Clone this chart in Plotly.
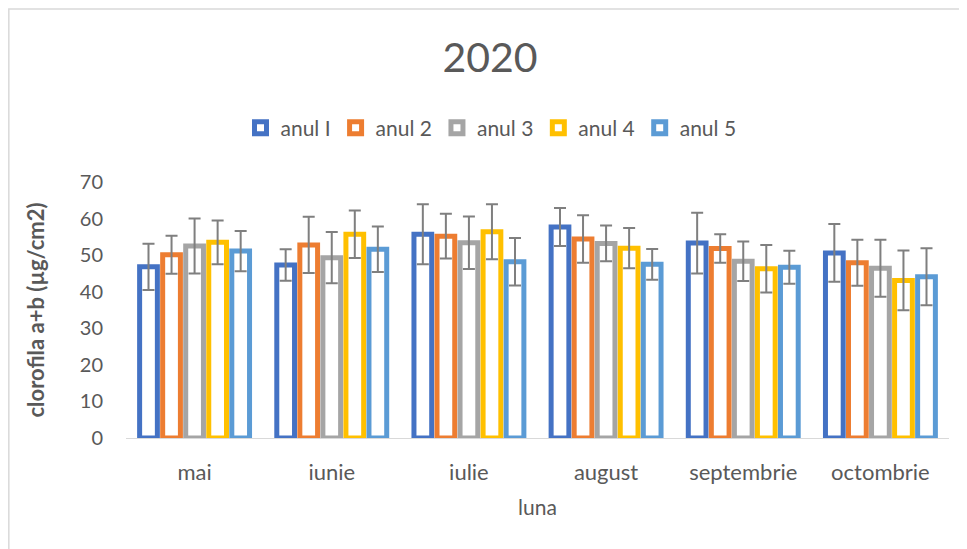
import plotly.graph_objects as go

months = ["mai", "iunie", "iulie", "august", "septembrie", "octombrie"]
series_names = ["anul I", "anul 2", "anul 3", "anul 4", "anul 5"]

anul_1 = [46.8, 47.3, 55.7, 57.7, 53.3, 50.6]
anul_2 = [50.1, 52.8, 55.2, 54.4, 51.8, 47.9]
anul_3 = [52.5, 49.3, 53.4, 53.2, 48.3, 46.4]
anul_4 = [53.5, 55.7, 56.4, 51.9, 46.3, 43.1]
anul_5 = [51.1, 51.6, 48.2, 47.5, 46.7, 44.1]

err_1 = [6.3, 4.3, 8.2, 5.2, 8.3, 7.9]
err_2 = [5.2, 7.7, 6.1, 6.5, 3.9, 6.3]
err_3 = [7.5, 7.0, 7.2, 4.9, 5.4, 7.8]
err_4 = [6.0, 6.5, 7.5, 5.5, 6.5, 8.2]
err_5 = [5.5, 6.2, 6.5, 4.2, 4.5, 7.8]

y_ticks = [0, 10, 20, 30, 40, 50, 60, 70]

values = [anul_1, anul_2, anul_3, anul_4, anul_5]
errors = [err_1, err_2, err_3, err_4, err_5]
colors = ["#4472C4", "#ED7D31", "#A5A5A5", "#FFC000", "#5B9BD5"]

FONT = "Lato"
TXT = "#595959"

fig = go.Figure()
for name, vals, errs, col in zip(series_names, values, errors, colors):
    fig.add_trace(go.Bar(
        name=name, x=months, y=vals,
        marker=dict(color="white", line=dict(color=col, width=5)),
        error_y=dict(type="data", array=errs, visible=True,
                     color="#7F7F7F", thickness=2, width=6),
        cliponaxis=False,
    ))

# page body has an 8px margin, so the figure starts at (8, 8) on screen
W, H = 959, 541
ml, mr, mt, mb = 118, 18, 174, 111
pw = W - ml - mr
ph = H - mt - mb

fig.update_layout(
    width=W, height=H,
    margin=dict(l=ml, r=mr, t=mt, b=mb),
    paper_bgcolor="white", plot_bgcolor="white",
    barmode="group", bargap=0.16, bargroupgap=0.23,
    font=dict(family=FONT, color=TXT, size=20),
    title=dict(text="2020", x=482 / W, xanchor="center",
               y=1 - 50 / H, yanchor="middle",
               font=dict(size=41, color=TXT, family=FONT)),
    legend=dict(orientation="h", x=(483 - ml) / pw, xanchor="center",
                y=(H - mb - 120) / ph, yanchor="middle",
                font=dict(size=21, color=TXT, family=FONT),
                bgcolor="rgba(0,0,0,0)"),
    xaxis=dict(showline=True, linecolor="#D9D9D9", linewidth=1,
               showgrid=False, ticks="", ticklabelstandoff=15,
               tickfont=dict(size=22, color=TXT),
               title=dict(text="luna", standoff=15,
                          font=dict(size=21, color=TXT))),
    yaxis=dict(range=[0, 70], tickvals=y_ticks, showgrid=False,
               showline=False, zeroline=False, ticks="",
               ticklabelstandoff=22,
               tickfont=dict(size=20, color=TXT),
               title=dict(text="<b>clorofila a+b (µg/cm2)</b>", standoff=29,
                          font=dict(size=22, color=TXT))),
    shapes=[dict(type="rect", xref="paper", yref="paper",
                 x0=-ml / pw + 0.001, x1=1.5, y0=-1, y1=1 + (mt - 1) / ph,
                 line=dict(color="#D9D9D9", width=1.5),
                 fillcolor="rgba(0,0,0,0)", layer="below")],
)

fig.write_html("out.html")
